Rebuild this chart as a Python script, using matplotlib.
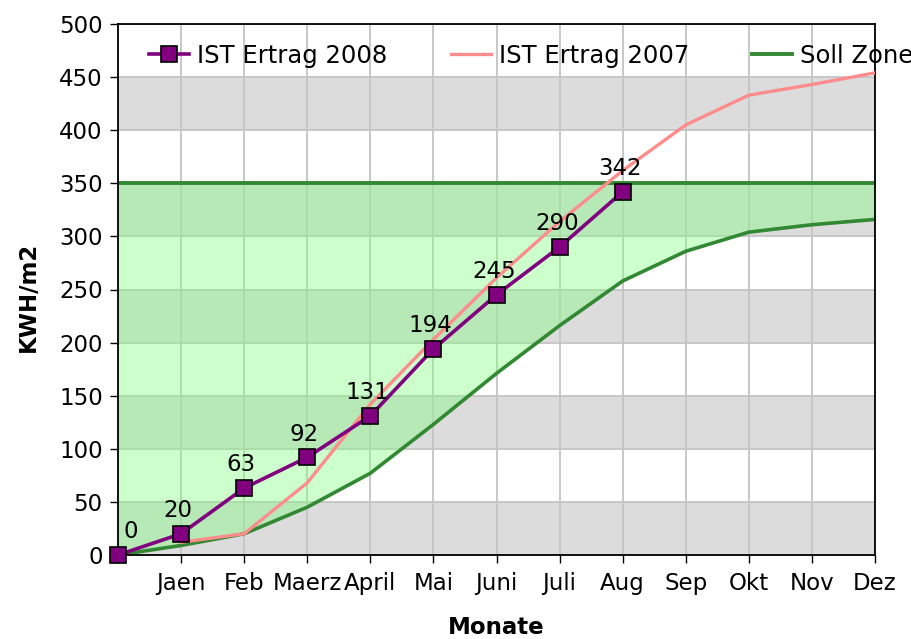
import numpy as np
import matplotlib
matplotlib.use('Agg')
import matplotlib.pyplot as plt

# Daten
monate = ['', 'Jaen', 'Feb', 'Maerz', 'April', 'Mai', 'Juni', 'Juli', 'Aug',
          'Sep', 'Okt', 'Nov', 'Dez']
ist_2008 = [0, 20, 63, 92, 131, 194, 245, 290, 342]
ist_2007 = [np.nan, 12, 20, 68, 142, 203, 261, 314, 362, 405, 433, 443, 454]
soll_unten = [0, 9, 20, 45, 77, 123, 171, 216, 258, 286, 304, 311, 316]
soll_oben = [350] * 13

plt.rcParams['font.family'] = 'DejaVu Sans'
plt.rcParams['font.size'] = 16.5

fig = plt.figure(figsize=(9.12, 6.39), dpi=100)
ax = fig.add_axes([118/912, 1-555/639, 757/912, 531/639])

x = np.arange(len(monate))

# graue Baender
for y0 in range(0, 500, 100):
    ax.axhspan(y0, y0 + 50, color='#dcdcdc', zorder=0, lw=0)
ax.set_axisbelow(True)
ax.grid(True, color='#c4c4c4', lw=1.3)

# Soll Zone
ax.fill_between(x, soll_unten, soll_oben, color=(0.5, 1.0, 0.5), alpha=0.4,
                lw=0, zorder=1)
ax.plot(x, soll_unten, color='#338833', lw=2.6, zorder=2)
ax.plot(x, soll_oben, color='#338833', lw=2.8, zorder=2, label='Soll Zone')

# IST 2007
ax.plot(x, ist_2007, color='#ff8c8c', lw=2.4, zorder=3, label='IST Ertrag 2007')

# IST 2008
x8 = x[:len(ist_2008)]
ax.plot(x8, ist_2008, color='#800080', lw=2.6, marker='s', markersize=11,
        markerfacecolor='#800080', markeredgecolor='black', markeredgewidth=1.2,
        zorder=4, clip_on=False, label='IST Ertrag 2008')
for i, v in enumerate(ist_2008):
    dx = 9 if i == 0 else -2
    ax.annotate(str(v), (x8[i], v), xytext=(dx, 12), textcoords='offset points',
                ha='center', va='baseline', fontsize=16.5, zorder=5)

ax.set_xlim(0, 12)
ax.set_ylim(0, 500)
ax.set_xticks(x)
ax.set_xticklabels(monate)
ax.set_yticks(np.arange(0, 501, 50))
ax.tick_params(direction='out', length=6, width=1, pad=5)
ax.tick_params(axis='x', pad=6)
for s in ax.spines.values():
    s.set_linewidth(1.3)

ax.set_xlabel('Monate', fontweight='bold', fontsize=16.5)
ax.set_ylabel('KWH/m2', fontweight='bold', fontsize=16.5)
ax.xaxis.set_label_coords(0.5, -0.115)
ax.yaxis.set_label_coords(-0.103, 0.487)

h, l = ax.get_legend_handles_labels()
order = [2, 1, 0]
ax.legend([h[k] for k in order], [l[k] for k in order], ncol=3,
          loc='center left', bbox_to_anchor=(0.041, 0.94), frameon=False,
          borderpad=0, borderaxespad=0, handlelength=1.65, handletextpad=0.33,
          columnspacing=2.6, fontsize=17.5)

fig.savefig('out.png', dpi=100)
